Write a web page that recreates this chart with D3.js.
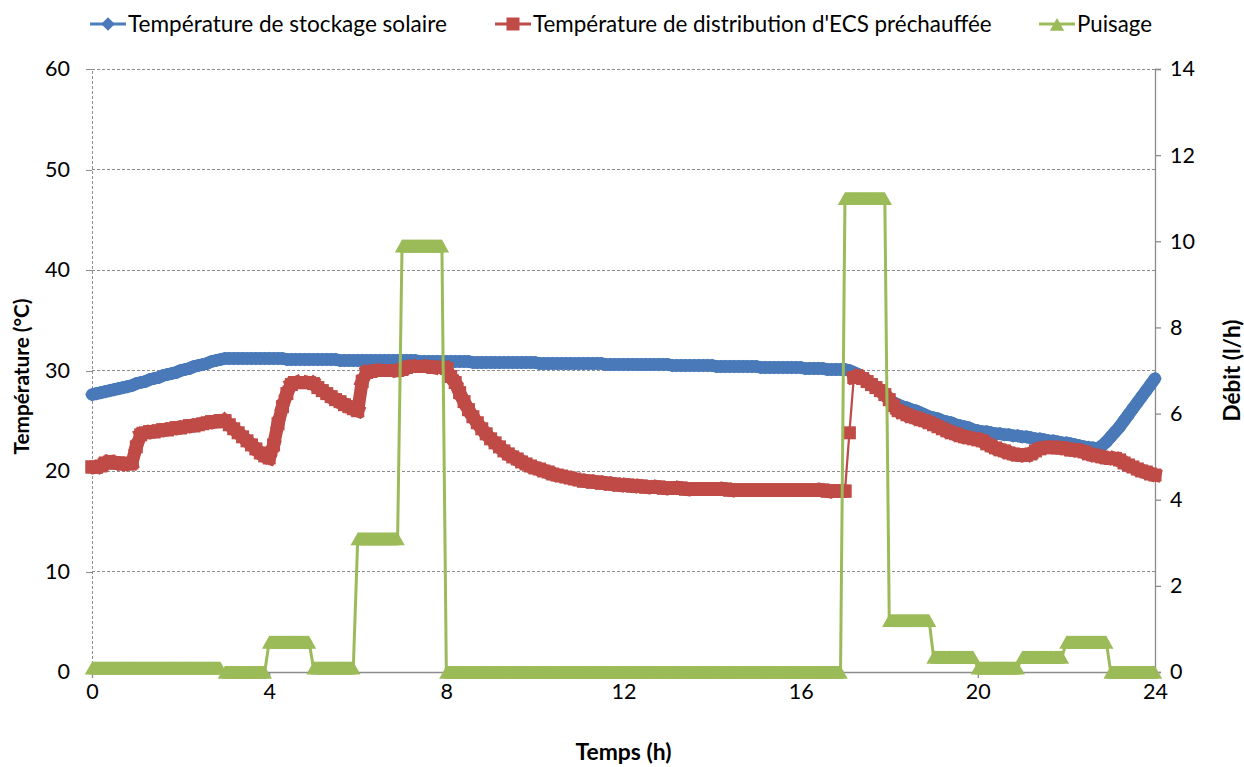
<!DOCTYPE html>
<html><head><meta charset="utf-8">
<script src="https://cdn.jsdelivr.net/npm/d3@7"></script>
<style>
body{margin:0;background:#fff}
svg{display:block}
text{font-family:Lato,'Open Sans',sans-serif}
</style>
</head><body><svg id="c" width="1244" height="767"></svg>
<script>
// time grid (h), one sample every 0.1 h
const heures = d3.range(241).map(i => i / 10);

// Température de stockage solaire (°C)
const stockage = [
27.6,27.7,27.8,27.9,28.0,28.1,28.2,28.3,28.4,28.5,28.7,
28.8,28.9,29.1,29.2,29.3,29.5,29.6,29.7,29.8,30.0,
30.1,30.2,30.4,30.5,30.6,30.7,30.9,31.0,31.1,31.2,
31.2,31.2,31.2,31.2,31.2,31.2,31.2,31.2,31.2,31.2,
31.2,31.2,31.2,31.1,31.1,31.1,31.1,31.1,31.1,31.1,
31.1,31.1,31.1,31.1,31.1,31.0,31.0,31.0,31.0,31.0,
31.0,31.0,31.0,31.0,31.0,31.0,31.0,31.0,31.0,31.0,
31.0,31.0,31.0,30.9,30.9,30.9,30.9,30.9,30.9,30.9,
30.9,30.9,30.9,30.9,30.9,30.8,30.8,30.8,30.8,30.8,
30.8,30.8,30.8,30.8,30.8,30.8,30.8,30.8,30.8,30.8,
30.7,30.7,30.7,30.7,30.7,30.7,30.7,30.7,30.7,30.7,
30.7,30.7,30.7,30.7,30.7,30.6,30.6,30.6,30.6,30.6,
30.6,30.6,30.6,30.6,30.6,30.6,30.6,30.6,30.6,30.6,
30.5,30.5,30.5,30.5,30.5,30.5,30.5,30.5,30.5,30.5,
30.4,30.4,30.4,30.4,30.4,30.4,30.4,30.4,30.4,30.4,
30.3,30.3,30.3,30.3,30.3,30.3,30.3,30.3,30.3,30.3,
30.2,30.2,30.2,30.2,30.2,30.1,30.1,30.1,30.1,30.1,
30.0,29.8,29.6,29.3,29.0,28.6,28.3,27.9,27.5,27.1,
26.8,26.6,26.4,26.3,26.1,26.0,25.8,25.6,25.4,25.3,
25.2,25.0,24.9,24.8,24.6,24.5,24.4,24.3,24.1,24.0,
23.9,23.9,23.8,23.7,23.7,23.6,23.6,23.5,23.5,23.4,
23.4,23.3,23.2,23.2,23.1,23.0,23.0,22.9,22.8,22.8,
22.7,22.6,22.5,22.4,22.35,22.3,22.2,22.5,22.9,23.4,
23.9,24.4,25.0,25.6,26.2,26.8,27.4,28.0,28.6,29.2
];

// Température de distribution d'ECS préchauffée (°C)
const distribution = [
20.4,20.4,20.5,20.8,20.9,20.8,20.8,20.7,20.7,20.8,22.4,
23.6,23.8,23.9,23.9,24.0,24.1,24.1,24.2,24.3,24.3,
24.4,24.5,24.5,24.6,24.7,24.8,24.9,24.9,25.0,25.0,
24.6,24.2,23.8,23.4,23.0,22.6,22.2,21.8,21.5,21.3,
22.6,24.7,26.4,27.7,28.6,28.8,28.8,28.8,28.8,28.7,
28.3,28.0,27.7,27.4,27.1,26.9,26.6,26.4,26.2,26.0,
28.9,29.8,29.9,30.0,30.0,30.0,30.0,30.0,30.0,30.1,
30.3,30.4,30.4,30.4,30.4,30.4,30.3,30.3,30.3,30.2,
29.4,28.8,27.8,26.9,26.1,25.4,24.8,24.2,23.7,23.2,
22.8,22.4,22.0,21.7,21.4,21.2,20.9,20.7,20.5,20.3,
20.2,20.0,19.9,19.7,19.6,19.5,19.4,19.3,19.2,19.1,
19.0,19.0,18.9,18.9,18.8,18.8,18.7,18.7,18.6,18.6,
18.6,18.5,18.5,18.5,18.4,18.4,18.4,18.4,18.3,18.3,
18.3,18.3,18.3,18.2,18.2,18.2,18.2,18.2,18.2,18.2,
18.2,18.2,18.2,18.1,18.1,18.1,18.1,18.1,18.1,18.1,
18.1,18.1,18.1,18.1,18.1,18.1,18.1,18.1,18.1,18.1,
18.1,18.1,18.1,18.1,18.1,18.0,18.0,18.0,18.0,18.0,
23.8,29.3,29.4,29.2,28.9,28.6,28.3,28.0,27.6,27.1,
26.5,26.0,25.8,25.6,25.4,25.3,25.1,25.0,24.8,24.6,
24.4,24.2,24.0,23.8,23.7,23.5,23.4,23.3,23.2,23.1,
23.0,22.7,22.5,22.3,22.1,22.0,21.8,21.7,21.6,21.6,
21.6,21.7,22.0,22.2,22.3,22.35,22.35,22.3,22.3,22.2,
22.1,22.1,22.0,21.9,21.7,21.6,21.5,21.4,21.3,21.25,
21.25,21.1,20.8,20.6,20.4,20.2,20.0,19.9,19.7,19.6
];

// Puisage (l/h)
const puisage = [
0.1,0.1,0.1,0.1,0.1,0.1,0.1,0.1,0.1,0.1,
0.1,0.1,0.1,0.1,0.1,0.1,0.1,0.1,0.1,0.1,
0.1,0.1,0.1,0.1,0.1,0.1,0.1,0.1,0.1,0.1,
0,0,0,0,0,0,0,0,0,0,
0.7,0.7,0.7,0.7,0.7,0.7,0.7,0.7,0.7,0.7,
0.1,0.1,0.1,0.1,0.1,0.1,0.1,0.1,0.1,0.1,
3.1,3.1,3.1,3.1,3.1,3.1,3.1,3.1,3.1,3.1,
9.9,9.9,9.9,9.9,9.9,9.9,9.9,9.9,9.9,9.9,
0,0,0,0,0,0,0,0,0,0,
0,0,0,0,0,0,0,0,0,0,
0,0,0,0,0,0,0,0,0,0,
0,0,0,0,0,0,0,0,0,0,
0,0,0,0,0,0,0,0,0,0,
0,0,0,0,0,0,0,0,0,0,
0,0,0,0,0,0,0,0,0,0,
0,0,0,0,0,0,0,0,0,0,
0,0,0,0,0,0,0,0,0,0,
11.0,11.0,11.0,11.0,11.0,11.0,11.0,11.0,11.0,11.0,
1.2,1.2,1.2,1.2,1.2,1.2,1.2,1.2,1.2,1.2,
0.35,0.35,0.35,0.35,0.35,0.35,0.35,0.35,0.35,0.35,
0.1,0.1,0.1,0.1,0.1,0.1,0.1,0.1,0.1,0.1,
0.35,0.35,0.35,0.35,0.35,0.35,0.35,0.35,0.35,0.35,
0.7,0.7,0.7,0.7,0.7,0.7,0.7,0.7,0.7,0.7,
0,0,0,0,0,0,0,0,0,0,0
];

const xTicks = [0,4,8,12,16,20,24];
const yTicksLeft = [0,10,20,30,40,50,60];
const yTicksRight = [0,2,4,6,8,10,12,14];
const seriesNames = ["Température de stockage solaire","Température de distribution d'ECS préchauffée","Puisage"];
const xTitle = "Temps (h)";
const yTitleLeft = "Température (°C)";
const yTitleRight = "Débit (l/h)";

const W = 1244, H = 767;
const M = {left: 92, right: 89, top: 69, bottom: 95};
const svg = d3.select("#c");
svg.append("rect").attr("width", W).attr("height", H).attr("fill", "#fff");

const x = d3.scaleLinear().domain([0, 24]).range([M.left, W - M.right]);
const yL = d3.scaleLinear().domain([0, 60]).range([H - M.bottom, M.top]);
const yR = d3.scaleLinear().domain([0, 14]).range([H - M.bottom, M.top]);

const GRID = "#8c8c8c", AXIS = "#8c8c8c", FS = 20, TFS = 21.5;

// fit a text element to a target width (layout matching)
function fitWidth(sel, target) {
  const w = sel.node().getComputedTextLength();
  const fs = parseFloat(sel.attr("font-size"));
  if (w > 0) sel.attr("font-size", fs * target / w);
}

// horizontal gridlines
svg.append("g").selectAll("line").data(yTicksLeft.filter(d => d > 0)).join("line")
  .attr("x1", x(0)).attr("x2", x(24)).attr("y1", d => yL(d)).attr("y2", d => yL(d))
  .attr("stroke", GRID).attr("stroke-width", 1).attr("stroke-dasharray", "3,2")
  .attr("shape-rendering", "crispEdges");

// left axis (dashed line) + ticks
const gL = svg.append("g").attr("transform", `translate(${x(0)},0)`)
  .call(d3.axisLeft(yL).tickValues(yTicksLeft).tickSize(6).tickPadding(16));
gL.select(".domain").attr("stroke", GRID).attr("stroke-dasharray", "3,2").attr("shape-rendering", "crispEdges");
gL.selectAll(".tick line").attr("stroke", GRID).attr("shape-rendering", "crispEdges");
gL.selectAll("text").attr("font-size", TFS).attr("fill", "#000").attr("font-family", "Lato");

// right axis
const gR = svg.append("g").attr("transform", `translate(${x(24)},0)`)
  .call(d3.axisRight(yR).tickValues(yTicksRight).tickSize(6).tickPadding(9));
gR.select(".domain").attr("stroke", AXIS).attr("stroke-width", 1.3);
gR.selectAll(".tick line").attr("stroke", AXIS).attr("stroke-width", 1.3);
gR.selectAll("text").attr("font-size", TFS).attr("fill", "#000").attr("font-family", "Lato");

// bottom axis
const gB = svg.append("g").attr("transform", `translate(0,${yL(0)})`)
  .call(d3.axisBottom(x).tickValues(xTicks).tickSize(6).tickPadding(6).tickSizeOuter(0));
gB.select(".domain").attr("stroke", AXIS).attr("stroke-width", 1.3);
gB.selectAll(".tick line").attr("stroke", AXIS).attr("stroke-width", 1.3);
gB.selectAll("text").attr("font-size", TFS).attr("fill", "#000").attr("font-family", "Lato");

// axis titles
const tX = svg.append("text").attr("x", (x(0) + x(24)) / 2).attr("y", 760).attr("text-anchor", "middle")
  .attr("font-size", FS).attr("font-weight", "bold").text(xTitle);
fitWidth(tX, 96);
const tL = svg.append("text").attr("transform", `translate(29,${(yL(0) + yL(60)) / 2 + 6}) rotate(-90)`)
  .attr("text-anchor", "middle").attr("font-size", FS).attr("font-weight", "bold").text(yTitleLeft);
fitWidth(tL, 156);
const tR = svg.append("text").attr("transform", `translate(1240,${(yL(0) + yL(60)) / 2}) rotate(-90)`)
  .attr("text-anchor", "middle").attr("font-size", FS).attr("font-weight", "bold").text(yTitleRight);
fitWidth(tR, 102);

// series
const colors = [
  {line: "#4A7EBB", fill: "#4979B8"},
  {line: "#BE4B48", fill: "#BF4A46"},
  {line: "#9BBB59", fill: "#9BBB59"}
];
const diamond = "M0,-6.8L6.8,0L0,6.8L-6.8,0Z";
const triangle = "M0,-6L7.2,6.8L-7.2,6.8Z";

// band: marker-dense look; wide stroke where consecutive samples are close, thin line on big jumps
function drawSeries(values, yScale, c, lw, band, marker) {
  const pts = heures.map((h, i) => [h, values[i]]);
  const segs = d3.pairs(pts);
  const g = svg.append("g");
  g.append("path").datum(pts)
    .attr("d", d3.line().x(d => x(d[0])).y(d => yScale(d[1])))
    .attr("fill", "none").attr("stroke", c.line).attr("stroke-width", lw).attr("stroke-linejoin", "round");
  g.append("g").selectAll("line").data(segs.filter(band.keep)).join("line")
    .attr("x1", d => x(d[0][0])).attr("y1", d => yScale(d[0][1]) + band.dy)
    .attr("x2", d => x(d[1][0])).attr("y2", d => yScale(d[1][1]) + band.dy)
    .attr("stroke", c.fill).attr("stroke-width", band.width).attr("stroke-linecap", band.cap);
  const m = g.append("g").selectAll("g").data(pts).join("g")
    .attr("transform", d => `translate(${x(d[0])},${yScale(d[1])})`);
  marker(m, c);
}
const mDiamond = (sel, c) => sel.append("path").attr("d", diamond).attr("fill", c.fill);
const mSquare = (sel, c) => sel.append("rect").attr("x", -6.5).attr("y", -6.5).attr("width", 13).attr("height", 13).attr("fill", c.fill);
const mTriangle = (sel, c) => sel.append("path").attr("d", triangle).attr("fill", c.fill);

drawSeries(stockage, yL, colors[0], 2.5,
  {keep: s => Math.abs(yL(s[1][1]) - yL(s[0][1])) < 40, width: 12.4, dy: 0, cap: "round"}, mDiamond);
drawSeries(distribution, yL, colors[1], 2.25,
  {keep: s => Math.abs(yL(s[1][1]) - yL(s[0][1])) < 40, width: 13, dy: 0, cap: "square"}, mSquare);
drawSeries(puisage, yR, colors[2], 3,
  {keep: s => s[1][1] === s[0][1], width: 12.8, dy: 0.4, cap: "butt"}, mTriangle);

// legend
const legendX = [90, 495, 1039];
const legendW = [319, 459, 75];
const markers = [mDiamond, mSquare, mTriangle];
seriesNames.forEach((name, i) => {
  const g = svg.append("g").attr("transform", `translate(${legendX[i]},24)`);
  g.append("line").attr("x1", 0).attr("x2", 36).attr("stroke", colors[i].line).attr("stroke-width", 3);
  markers[i](g.append("g").attr("transform", "translate(18,0)"), colors[i]);
  const t = g.append("text").attr("x", 38).attr("y", 7.5).attr("font-size", FS).attr("fill", "#000").text(name);
  fitWidth(t, legendW[i]);
});
</script>
</body></html>
